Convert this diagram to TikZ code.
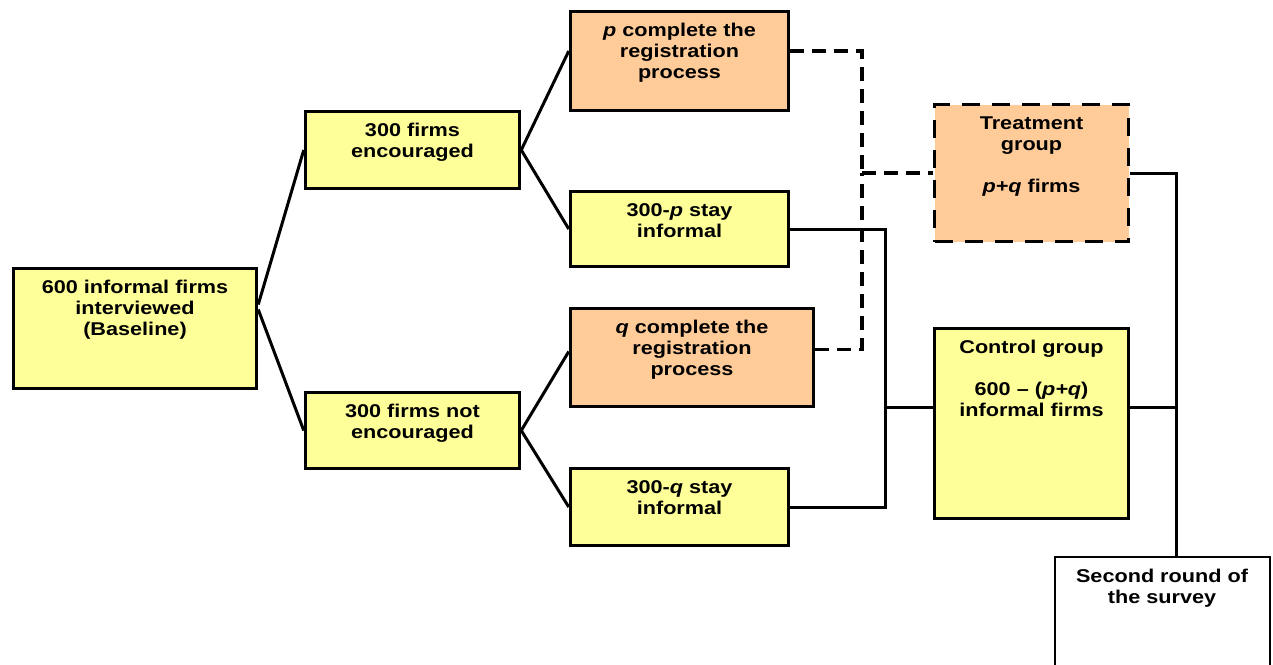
\documentclass[tikz,border=0pt]{standalone}
\usepackage{fontspec}
\setmainfont{Liberation Sans}[FakeStretch=1.17]
\definecolor{boxyellow}{HTML}{FFFF99}
\definecolor{boxorange}{HTML}{FFCC99}
% text block at the top of a box: width, height, lines
\newcommand{\boxtext}[3]{\parbox[c][#2][t]{#1}{\centering\vspace*{12pt}#3}}
\tikzset{
    box/.style={draw, line width=3.5pt, inner sep=0pt,
        font=\bfseries\fontsize{18.5}{21}\selectfont},
    yellowbox/.style={box, fill=boxyellow},
    orangebox/.style={box, fill=boxorange},
    link/.style={line width=3pt},
    dashlink/.style={line width=3.3pt, dash pattern=on 14pt off 8pt},
}
\begin{document}
\begin{tikzpicture}[x=1pt, y=-1pt]
\useasboundingbox (0,0) rectangle (1273,664);

% ---- 基线 ----
\node[yellowbox] (base) at (135,328.5)
    {\boxtext{243pt}{120pt}{600 informal firms\\interviewed\\(Baseline)}};

% ---- 分组 ----
\node[yellowbox] (enc) at (412.5,150)
    {\boxtext{214pt}{77pt}{300 firms\\encouraged}};
\node[yellowbox] (notenc) at (412.5,430.5)
    {\boxtext{214pt}{76pt}{300 firms not\\encouraged}};

% ---- 注册与否 ----
\node[orangebox] (pcomp) at (679.5,61)
    {\boxtext{218pt}{99pt}{\textit{p} complete the\\registration\\process}};
\node[yellowbox] (pstay) at (679.5,229)
    {\boxtext{218pt}{75pt}{300-\textit{p} stay\\informal}};
\node[orangebox] (qcomp) at (692,357.5)
    {\boxtext{243pt}{98pt}{\textit{q} complete the\\registration\\process}};
\node[yellowbox] (qstay) at (679.5,507)
    {\boxtext{218pt}{77pt}{300-\textit{q} stay\\informal}};

% ---- 处理组与对照组 ----
\node[orangebox, dash pattern=on 18pt off 12pt] (treat) at (1031.5,173)
    {\boxtext{194pt}{137pt}{Treatment\\group\\[21pt]\textit{p+q} firms}};
\node[yellowbox] (ctrl) at (1031.5,423.5)
    {\boxtext{194pt}{190pt}{Control group\\[21pt]600 -- (\textit{p+q})\\informal firms}};

% ---- 第二轮调查 ----
\node[box, line width=2pt, fill=white] (second) at (1162,618)
    {\boxtext{215pt}{122pt}{Second round of\\the survey}};

% 连接点
\coordinate (tj) at (862,173);
\coordinate (cj) at (885,407);
\coordinate (sj) at (1176,407);

% ---- 树枝 ----
\draw[link] ([yshift=24pt]base.east) -- (enc.west);
\draw[link] ([yshift=19pt]base.east) -- (notenc.west);
\draw[link] (enc.east) -- ([yshift=10pt]pcomp.west);
\draw[link] (enc.east) -- (pstay.west);
\draw[link] (notenc.east) -- ([yshift=6pt]qcomp.west);
\draw[link] (notenc.east) -- (qstay.west);

% ---- 汇合 ----
\draw[dashlink] ([yshift=10pt]pcomp.east) -| (tj);
\draw[dashlink] ([yshift=8pt]qcomp.east) -| (tj);
\draw[dashlink] (tj) -- (treat.west);
\draw[link] (pstay.east) -| (cj) |- (qstay.east);
\draw[link] (cj) -- (cj -| ctrl.west);
\draw[link] (treat.east) -| (sj |- second.north);
\draw[link] (ctrl.east |- sj) -- (sj);

\end{tikzpicture}
\end{document}
